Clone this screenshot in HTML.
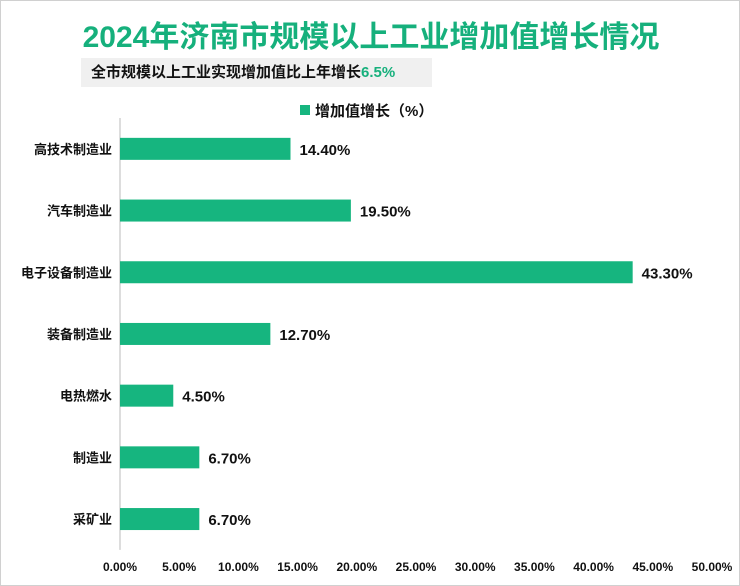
<!DOCTYPE html>
<html><head><meta charset="utf-8"><style>
body{margin:0;background:#fff;font-family:"Liberation Sans","Noto Sans CJK SC",sans-serif;}
#wrap{position:relative;width:738px;height:584px;border:1px solid #d0d0d0;overflow:hidden;}
</style></head><body>
<div id="wrap">
<div style="position:absolute;left:0;width:740px;top:11px;text-align:center;font-size:30px;font-weight:bold;color:#16b07c;">2024年济南市规模以上工业增加值增长情况</div>
<div style="position:absolute;left:80px;top:57px;width:351px;height:29px;background:#f0f0f0;font-size:15px;font-weight:bold;line-height:29px;padding-left:10px;box-sizing:border-box;color:#111;">全市规模以上工业实现增加值比上年增长<span style="color:#16b07c">6.5%</span></div>
<svg id="chart" width="740" height="586" style="position:absolute;left:-1px;top:-1px"></svg>
</div>
<script>
const categories=["高技术制造业","汽车制造业","电子设备制造业","装备制造业","电热燃水","制造业","采矿业"];
const values=[14.4,19.5,43.3,12.7,4.5,6.7,6.7];
const labels=["14.40%","19.50%","43.30%","12.70%","4.50%","6.70%","6.70%"];
const ticks=[0,5,10,15,20,25,30,35,40,45,50];
const svg=document.getElementById('chart');const NS="http://www.w3.org/2000/svg";
const x=v=>120+v*11.84;
const y0=118,step=61.7;const yc=i=>y0+step*(i+0.5);
function mk(t,a,txt){const e=document.createElementNS(NS,t);for(const k in a)e.setAttribute(k,a[k]);if(txt!==undefined)e.textContent=txt;svg.appendChild(e);return e;}
let lg=mk('rect',{x:300,y:105,width:10,height:10,fill:'#16b57f'});


let lt=mk('text',{x:315,y:116,'font-size':15,'font-weight':'bold',fill:'#111'},'增加值增长（%）');


let ax=mk('line',{x1:120,y1:y0,x2:120,y2:y0+step*7,stroke:'#bbb'});


categories.forEach((c,i)=>{
 const cy=yc(i);
 let r=mk('rect',{x:120,y:cy-11,width:x(values[i])-120,height:22,fill:'#16b57f'});
 
 
 let t=mk('text',{x:112,y:cy+5,'text-anchor':'end','font-size':13,'font-weight':'bold',fill:'#111'},c);
 
 
 let v=mk('text',{x:x(values[i])+9,y:cy+6,'font-size':15,'font-weight':'bold',fill:'#111'},labels[i]);
 
 
});
ticks.forEach(tk=>{
 let t=mk('text',{x:x(tk),y:571,'text-anchor':'middle','font-size':12,'font-weight':'bold',fill:'#111'},tk.toFixed(2)+'%');
 
 
});
</script>
</body></html>
